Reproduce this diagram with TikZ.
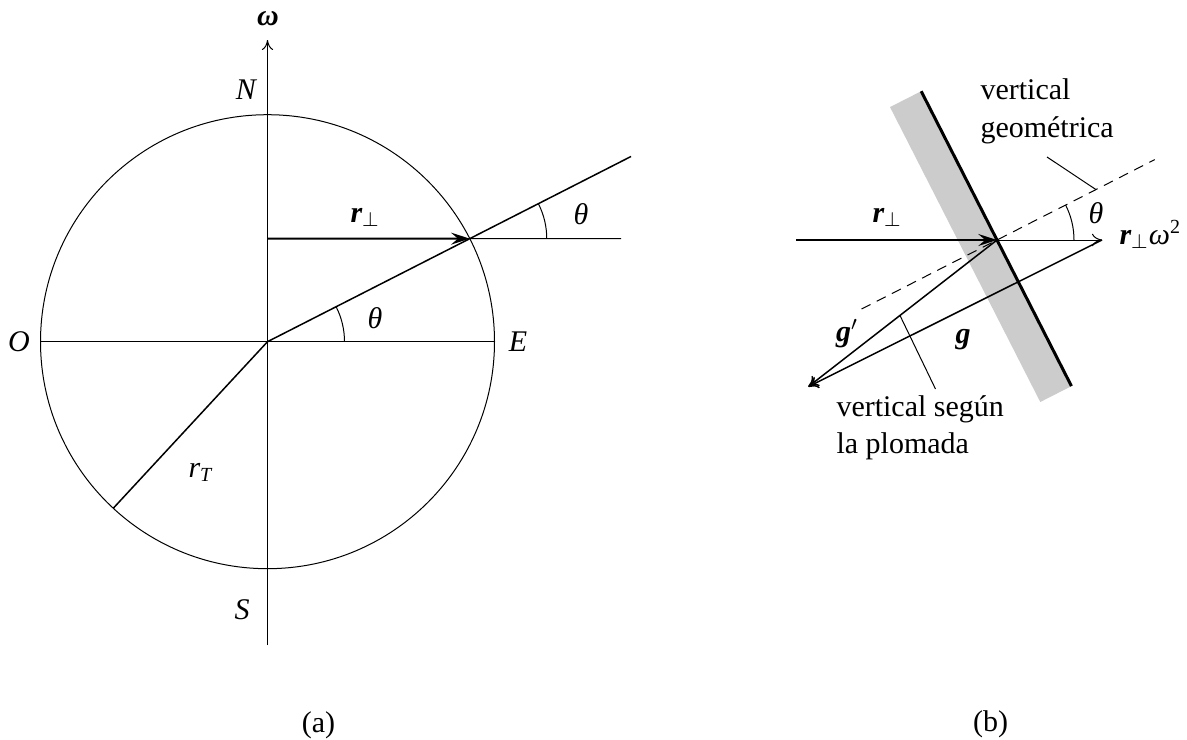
\documentclass[tikz,border=0pt]{standalone}
\usepackage{fontspec}
\setmainfont{Liberation Serif}
\usetikzlibrary{arrows.meta}
\begin{document}
\begin{tikzpicture}[x=0.4pt,y=-0.4pt,
  lbl/.style={font=\fontsize{12pt}{14.5pt}\selectfont, inner sep=0pt},
  thinline/.style={line width=0.4pt},
  midline/.style={line width=0.6pt},
  thickvec/.style={line width=0.8pt,-{Stealth[length=7.5pt,width=4.8pt,inset=2.8pt]}},
  thinvec/.style={line width=0.4pt,-{To[length=4pt,width=5pt]}},
  gvec/.style={line width=0.6pt,-{To[length=4pt,width=5pt]}},
  dashline/.style={line width=0.4pt,dash pattern=on 4pt off 2.8pt},
  plane/.style={line width=1.2pt},
  band/.style={fill=black!20,draw=none}]
\useasboundingbox (0,0) rectangle (1187,740);

% ---------- (a) ----------
\coordinate (C) at (267.5,341.7);
\path (C) ++(-27:227) coordinate (P);
\path (C) ++(-27:408) coordinate (Lend);
\path (C) ++(132.8:227) coordinate (RT);
\coordinate (axB) at (267.5,645);
\coordinate (axT) at (267.5,40);
\coordinate (Wl) at (40.5,341.7);
\coordinate (Er) at (494.5,341.7);
\coordinate (rpA) at (267.5,238.6);
\coordinate (Hend) at (621,238.6);

\draw[thinline] (C) circle[radius=227];
\draw[thinline,-{To[length=4pt,width=4.5pt]}] (axB) -- (axT);
\draw[thinline] (Wl) -- (Er);
\draw[midline] (C) -- (Lend);
\draw[midline] (C) -- (RT);
\draw[thinline] (P) -- (Hend);
\draw[thickvec] (rpA) -- (P);
\draw[thinline] (C) ++(77,0) arc[start angle=0,end angle=-27,radius=77];
\draw[thinline] (P) ++(77,0) arc[start angle=0,end angle=-27,radius=77];

\node[lbl] (omega) at (268,19) {\bfseries\itshape ω};
\node[lbl] (N) at (246,90) {\itshape N};
\node[lbl] (S) at (242,610) {\itshape S};
\node[lbl] (O) at (19,342) {\itshape O};
\node[lbl] (E) at (518,342) {\itshape E};
\node[lbl,anchor=base west] (rp) at (350,222) {{\bfseries\itshape r}$_\perp$};
\node[lbl] (th1) at (581,214) {\itshape θ};
\node[lbl] (th2) at (375,318) {\itshape θ};
\node[lbl,anchor=base west] (rT) at (188,477) {\itshape r\textsubscript{T}};
\node[lbl,anchor=base] (la) at (318.5,732) {(a)};

% ---------- (b) ----------
\coordinate (P2) at (997,240);
\coordinate (A2) at (796,240);
\coordinate (Q) at (1102,240);
\coordinate (T) at (808.3,386.7);
\path (P2) ++(-27:177) coordinate (D1);
\path (P2) ++(153:152) coordinate (D2);
\path (P2) ++(-117:167) coordinate (Ttop);
\path (P2) ++(63:164) coordinate (Tbot);
\path (Ttop) ++(153:35) coordinate (Gt);
\path (Tbot) ++(153:35) coordinate (Gb);
\coordinate (L1a) at (1047,157);
\coordinate (L1b) at (1096,189.6);
\coordinate (L2a) at (900,315.5);
\coordinate (L2b) at (935.5,389);

\fill[band] (Ttop) -- (Tbot) -- (Gb) -- (Gt) -- cycle;
\draw[plane] (Ttop) -- (Tbot);
\draw[dashline] (D2) -- (D1);
\draw[thinvec] (P2) -- (Q);
\draw[thickvec] (A2) -- (P2);
\draw[gvec] (P2) -- (T);
\draw[gvec] (Q) -- (T);
\draw[thinline] (L1a) -- (L1b);
\draw[thinline] (L2a) -- (L2b);
\draw[thinline] (P2) ++(77,0) arc[start angle=0,end angle=-27,radius=77];

\node[lbl,anchor=base west] (rp2) at (872,222) {{\bfseries\itshape r}$_\perp$};
\node[lbl,anchor=base west] (rw) at (1119,244) {{\bfseries\itshape r}$_\perp${\itshape ω}\textsuperscript{2}};
\node[lbl] (th3) at (1096,213) {\itshape θ};
\node[lbl,anchor=base west] (vg1) at (980,100) {vertical};
\node[lbl,anchor=base west] (vg2) at (980,137) {geométrica};
\node[lbl,anchor=base west] (vp1) at (836,416) {vertical según};
\node[lbl,anchor=base west] (vp2) at (836,453) {la plomada};
\node[lbl] (gp) at (847,334) {{\bfseries\itshape g}$'$};
\node[lbl] (g) at (963,340) {\bfseries\itshape g};
\node[lbl,anchor=base] (lb) at (990.5,731) {(b)};
\end{tikzpicture}
\end{document}
